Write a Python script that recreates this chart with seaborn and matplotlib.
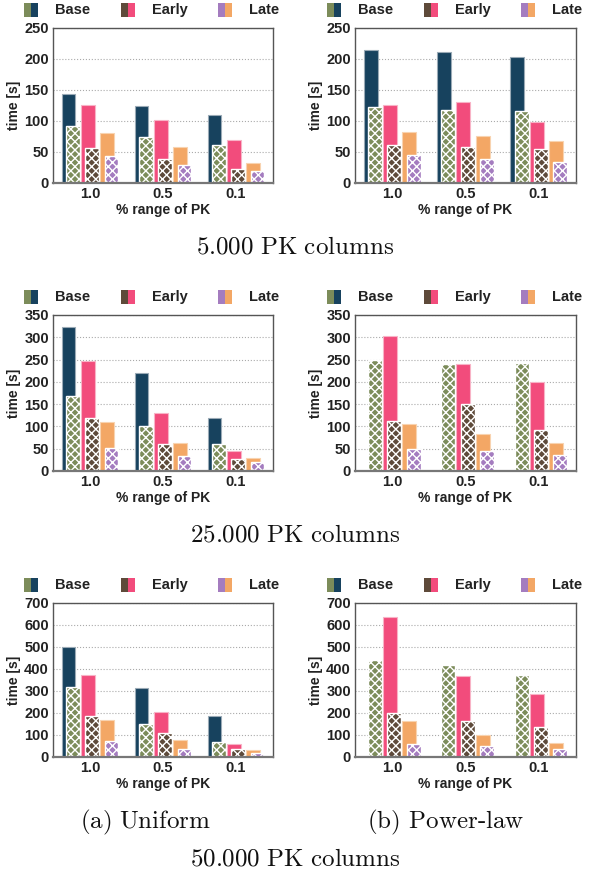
import numpy as np
import matplotlib
matplotlib.use("Agg")
import matplotlib.pyplot as plt
from matplotlib.patches import Rectangle
import seaborn as sns

# ---- data ----
groups = ["1.0", "0.5", "0.1"]
series = ["Base", "Early", "Late"]

# solid bars (back) and hatched bars (front), one row per group
uni_5k_solid = [[144, 126, 81], [124, 102, 57.5], [109, 70, 31.7]]
uni_5k_hatch = [[92.5, 56, 43.5], [74, 39, 28.5], [61, 22.6, 18.8]]
pow_5k_solid = [[215, 126, 81.7], [211, 130.6, 76.3], [204, 99, 67]]
pow_5k_hatch = [[122.6, 60.8, 45], [117.7, 58, 38.7], [116.7, 54.3, 34]]

uni_25k_solid = [[323, 247.5, 109.5], [219.6, 129.7, 63.7], [119, 45, 30]]
uni_25k_hatch = [[168.7, 120, 52.5], [102, 60, 33.7], [61.5, 27.7, 20]]
pow_25k_solid = [[np.nan, 303.7, 105], [np.nan, 240.6, 84], [np.nan, 198.7, 63]]
pow_25k_hatch = [[248, 113, 49.5], [239, 150.7, 45.7], [242, 93, 36.7]]

uni_50k_solid = [[497.8, 371, 170.4], [312, 206.6, 77], [187, 57.3, 31.7]]
uni_50k_hatch = [[319.8, 187, 71], [152, 108.6, 37.7], [68, 34.7, 16.6]]
pow_50k_solid = [[np.nan, 635, 164], [np.nan, 366.5, 99.5], [np.nan, 285, 63]]
pow_50k_hatch = [[439, 199, 60], [418, 163, 51], [371, 135.7, 34.7]]

ylims = [250, 350, 700]
ysteps = [50, 50, 100]

solid_colors = ["#17425e", "#f24c7c", "#f3a765"]
hatch_colors = ["#7c8c5a", "#5e4a3a", "#a47cbf"]
solid_edges = ["#9aaab6", "#f8b3c6", "#f8d3b0"]

sns.set_theme(style="white")
plt.rcParams.update({
    "font.family": ["Liberation Sans", "DejaVu Sans"],
    "font.weight": "bold",
    "axes.labelweight": "bold",
    "hatch.linewidth": 1.0,
    "mathtext.fontset": "cm",
})

fig = plt.figure(figsize=(5.9, 8.75), dpi=100)
W, H = 590, 875


def add_axes(l, t, r, b):
    return fig.add_axes([l / W, 1 - b / H, (r - l) / W, (b - t) / H])


def legend_row(x0, yc):
    # two-colour square handle + bold label, laid out like the original
    for i, name in enumerate(series):
        hx = x0 + 97 * i
        for k, col in enumerate([hatch_colors[i], solid_colors[i]]):
            fig.patches.append(Rectangle(((hx + 7 * k) / W, 1 - (yc + 7) / H), 7 / W, 14 / H,
                                         transform=fig.transFigure, color=col, lw=0))
        fig.text((hx + 31) / W, 1 - yc / H, name, fontsize=10.5, fontweight="bold",
                 color="#222222", ha="left", va="center")


rows = [(28, 183), (315, 471), (603, 757)]
cols = [(53, 273), (355, 576)]
data = [
    [(uni_5k_solid, uni_5k_hatch), (pow_5k_solid, pow_5k_hatch)],
    [(uni_25k_solid, uni_25k_hatch), (pow_25k_solid, pow_25k_hatch)],
    [(uni_50k_solid, uni_50k_hatch), (pow_50k_solid, pow_50k_hatch)],
]

step, width, off = 0.265, 0.19, 0.06
x = np.arange(len(groups))

for r, (top, bot) in enumerate(rows):
    for c, (left, right) in enumerate(cols):
        ax = add_axes(left, top, right, bot)
        solid, hatch = (np.array(a, dtype=float) for a in data[r][c])
        for i in range(3):
            pos = x + (i - 1) * step
            ok = np.isfinite(solid[:, i])
            ax.bar(pos[ok] - off / 2, solid[ok, i], width, color=solid_colors[i],
                   edgecolor=solid_edges[i], linewidth=0.8, zorder=2 + 2 * i)
            ax.bar(pos + off / 2, hatch[:, i], width, color=hatch_colors[i],
                   edgecolor="white", hatch="xxxx", linewidth=1.0, zorder=3 + 2 * i)

        ax.set_xlim(-0.507, 2.507)
        ax.set_ylim(0, ylims[r])
        ax.set_yticks(np.arange(0, ylims[r] + 1, ysteps[r]))
        ax.set_xticks(x)
        ax.set_xticklabels(groups)
        ax.tick_params(axis="both", length=0, labelsize=10.5, labelcolor="#222222", pad=3)
        ax.set_xlabel("% range of PK", fontsize=10, color="#222222", labelpad=1)
        ax.set_ylabel("time [s]", fontsize=10, color="#222222", labelpad=2)
        ax.yaxis.grid(True, linestyle=":", color="#aaaaaa", linewidth=0.8)
        ax.set_axisbelow(True)
        for s in ax.spines.values():
            s.set_color("#555555")
            s.set_linewidth(1.0)
            s.set_zorder(20)
        ax.spines["bottom"].set_color("#777777")
        ax.spines["bottom"].set_linewidth(1.6)

        legend_row(24 + 303 * c, top - 18)

cap = dict(fontsize=18, ha="center", va="center", color="#111111")
fig.text(0.5, 1 - 246 / H, r"$\mathrm{5.000\ PK\ columns}$", **cap)
fig.text(0.5, 1 - 535 / H, r"$\mathrm{25.000\ PK\ columns}$", **cap)
fig.text(146 / W, 1 - 822 / H, r"$\mathrm{(a)\ Uniform}$", **cap)
fig.text(446 / W, 1 - 822 / H, r"$\text{(b) Power-law}$", **cap)
fig.text(0.5, 1 - 859 / H, r"$\mathrm{50.000\ PK\ columns}$", **cap)

fig.savefig("out.png", dpi=100)
